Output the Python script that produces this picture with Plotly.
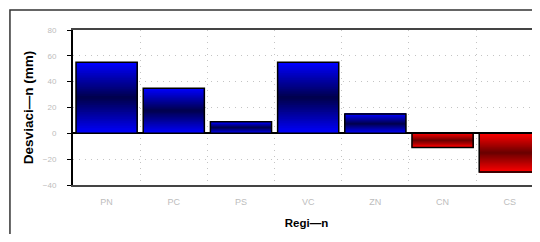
import plotly.graph_objects as go

categories = ["PN", "PC", "PS", "VC", "ZN", "CN", "CS"]
values = [55, 35, 9, 55, 15, -11, -30]
y_ticks = [-40, -20, 0, 20, 40, 60, 80]

BLUE_BRIGHT = (0, 0, 255)
BLUE_DARK = (0, 0, 75)
RED_BRIGHT = (255, 0, 0)
RED_DARK = (105, 0, 0)

N = 40


def mix(a, b, s):
    return "rgb(%d,%d,%d)" % tuple(round(a[k] * (1 - s) + b[k] * s) for k in range(3))


fig = go.Figure()
for i in range(N):
    t = (i + 0.5) / N
    s = 1 - abs(2 * t - 1)
    colors = [mix(BLUE_BRIGHT, BLUE_DARK, s) if v >= 0 else mix(RED_BRIGHT, RED_DARK, s) for v in values]
    fig.add_trace(go.Bar(
        x=categories,
        y=[v * (1 - i / N) for v in values],
        base=[v * i / N for v in values],
        marker=dict(color=colors, line=dict(width=0)),
        width=0.91,
        hoverinfo="skip",
        showlegend=False,
    ))

fig.add_trace(go.Bar(
    x=categories,
    y=values,
    marker=dict(color="rgba(0,0,0,0)", line=dict(color="black", width=1.5)),
    width=0.91,
    showlegend=False,
))

FONT_FAMILY = "Liberation Sans, Arial, sans-serif"

# page body has an 8px default margin, so the figure is offset by 8px;
# size it so the page does not overflow the 540x242 window (no scrollbars)
fig.update_layout(
    width=532,
    height=226,
    margin=dict(l=65, r=0, t=22, b=49),
    paper_bgcolor="white",
    plot_bgcolor="white",
    barmode="overlay",
    font=dict(family=FONT_FAMILY),
    shapes=[dict(
        type="rect", xref="paper", yref="paper",
        x0=-0.135, x1=1.05, y0=-0.6, y1=1.129,
        line=dict(color="#333333", width=1.5), fillcolor="rgba(0,0,0,0)", layer="below",
    )],
)

fig.update_xaxes(
    type="category",
    range=[-0.5, 6.45],
    tickson="boundaries",
    showgrid=True,
    gridcolor="#c4c4c4",
    griddash="1px,5px",
    gridwidth=1,
    ticks="",
    ticklabelstandoff=7,
    showline=True,
    linecolor="#444444",
    linewidth=2,
    mirror=True,
    tickfont=dict(size=9, color="#bdbdbd"),
    title=dict(text="Regi—n", font=dict(size=11.5, color="black", family=FONT_FAMILY, weight="bold"), standoff=13),
)

fig.update_yaxes(
    range=[-40, 80],
    tickvals=y_ticks,
    showgrid=True,
    gridcolor="#c4c4c4",
    griddash="1px,5px",
    gridwidth=1,
    zeroline=True,
    zerolinecolor="black",
    zerolinewidth=1.5,
    showline=True,
    linecolor="black",
    linewidth=2,
    ticks="outside",
    ticklen=4,
    tickcolor="black",
    ticklabelstandoff=9,
    tickfont=dict(size=8, color="#bdbdbd"),
    title=dict(text="Desviaci—n (mm)", font=dict(size=13.5, color="black", family=FONT_FAMILY, weight="bold"), standoff=6),
)

fig.write_html("out.html")
